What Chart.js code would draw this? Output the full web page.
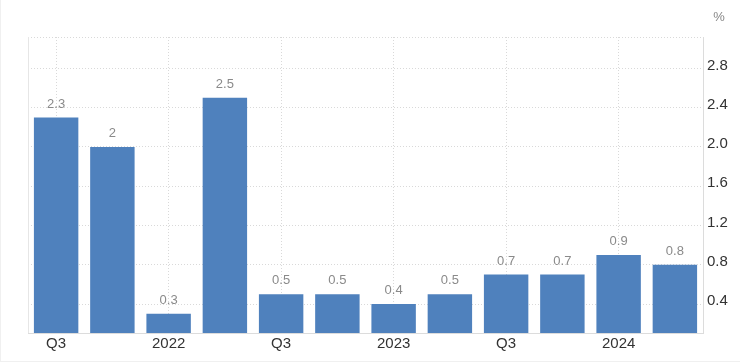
<!DOCTYPE html>
<html>
<head>
<meta charset="utf-8">
<script src="https://cdn.jsdelivr.net/npm/chart.js@4"></script>
<style>
html,body{margin:0;padding:0;background:#fff;}
#wrap{position:relative;width:740px;height:362px;box-sizing:border-box;border-left:1px solid #f0f0f0;border-bottom:1px solid #f0f0f0;}
canvas{display:block;}
</style>
</head>
<body>
<div id="wrap"><canvas id="c" width="740" height="362"></canvas></div>
<script>
const categories = ['Q3 2021','Q4 2021','Q1 2022','Q2 2022','Q3 2022','Q4 2022','Q1 2023','Q2 2023','Q3 2023','Q4 2023','Q1 2024','Q2 2024'];
const tickLabels = ['Q3','','2022','','Q3','','2023','','Q3','','2024',''];
const values = [2.3, 2, 0.3, 2.5, 0.5, 0.5, 0.4, 0.5, 0.7, 0.7, 0.9, 0.8];
const yTicks = [0.4, 0.8, 1.2, 1.6, 2.0, 2.4, 2.8];
const yMin = 0.105, yMax = 3.12;
const unitLabel = '%';

const FONT = "'Liberation Sans', Arial, sans-serif";

const extras = {
  id: 'extras',
  afterDraw(chart) {
    const ctx = chart.ctx;
    const a = chart.chartArea;
    ctx.save();
    ctx.strokeStyle = '#e6e6e6';
    ctx.lineWidth = 1;
    ctx.beginPath();
    ctx.moveTo(a.left + 0.5, a.top);
    ctx.lineTo(a.left + 0.5, a.bottom);
    ctx.stroke();
    const meta = chart.getDatasetMeta(0);
    ctx.fillStyle = '#8a8a8a';
    ctx.font = '13px ' + FONT;
    ctx.textAlign = 'center';
    ctx.textBaseline = 'alphabetic';
    meta.data.forEach((bar, i) => {
      ctx.fillText(String(values[i]), bar.x, bar.y - 10);
    });
    ctx.fillStyle = '#888';
    ctx.font = '13px ' + FONT;
    ctx.textAlign = 'center';
    ctx.textBaseline = 'middle';
    ctx.fillText(unitLabel, a.right + 16, 17);
    ctx.restore();
  }
};

new Chart(document.getElementById('c'), {
  type: 'bar',
  data: {
    labels: categories,
    datasets: [{
      data: values,
      backgroundColor: '#4f81bd',
      borderWidth: 0,
      barPercentage: 0.79,
      categoryPercentage: 1.0
    }]
  },
  options: {
    responsive: false,
    animation: false,
    events: [],
    layout: { padding: { left: 27, top: 37, right: 0, bottom: 0 } },
    plugins: { legend: { display: false }, tooltip: { enabled: false } },
    scales: {
      x: {
        offset: true,
        grid: {
          offset: false,
          drawTicks: false,
          color: (ctx) => (ctx.index % 2 === 0 ? '#d9d9d9' : 'rgba(0,0,0,0)')
        },
        border: { display: true, color: '#dcdcdc', width: 1, dash: [1, 2] },
        ticks: {
          autoSkip: false,
          maxRotation: 0,
          padding: 2,
          color: '#333',
          font: { family: FONT, size: 15 },
          callback: (v, i) => tickLabels[i]
        },
        afterFit: (s) => { s.height = 29; }
      },
      y: {
        position: 'right',
        min: yMin,
        max: yMax,
        afterBuildTicks: (s) => {
          s.ticks = yTicks.map(v => ({ value: v })).concat([{ value: yMax }]);
        },
        grid: {
          drawTicks: false,
          color: '#d9d9d9'
        },
        border: { display: true, color: '#dcdcdc', width: 1, dash: [1, 2] },
        ticks: {
          padding: 4,
          labelOffset: -3,
          color: '#333',
          font: { family: FONT, size: 15 },
          callback: (v) => (v === yMax ? '' : v.toFixed(1))
        },
        afterFit: (s) => { s.width = 38; }
      }
    }
  },
  plugins: [extras]
});
</script>
</body>
</html>
